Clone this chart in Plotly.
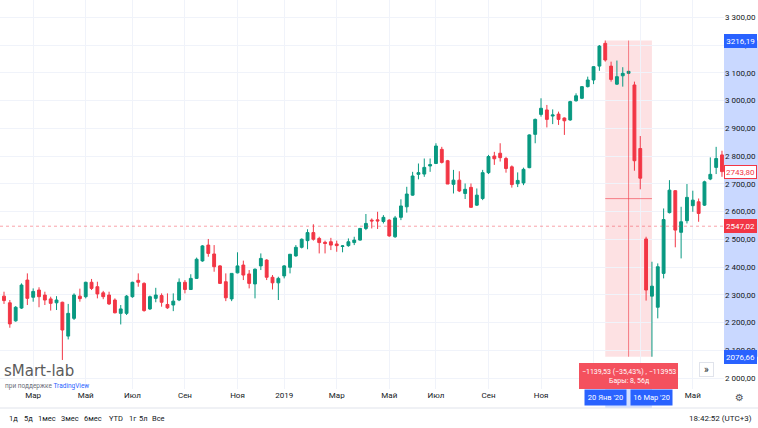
import pandas as pd
import plotly.graph_objects as go

# ---------------- data (weekly candles) ----------------
first_week = "2018-01-29"
opens = [2295, 2271, 2206, 2252, 2353, 2291, 2317, 2299, 2285, 2271,
         2273, 2151, 2215, 2295, 2293, 2345, 2329, 2307, 2299, 2281,
         2233, 2233, 2293, 2352, 2341, 2249, 2287, 2297, 2265, 2263,
         2281, 2345, 2319, 2359, 2422, 2479, 2447, 2404, 2347, 2285,
         2379, 2407, 2375, 2339, 2404, 2425, 2363, 2343, 2368, 2399,
         2440, 2471, 2495, 2524, 2503, 2489, 2491, 2483, 2474, 2477,
         2488, 2497, 2539, 2569, 2570, 2564, 2569, 2509, 2579, 2617,
         2659, 2734, 2735, 2764, 2773, 2824, 2783, 2698, 2713, 2665,
         2687, 2623, 2647, 2740, 2800, 2810, 2791, 2761, 2700, 2703,
         2758, 2878, 2950, 2966, 2944, 2951, 2937, 2930, 2999, 3008,
         3050, 3074, 3124, 3206, 3124, 3059, 3089, 3098, 3056, 2827,
         2501, 2295, 2255, 2377, 2596, 2675, 2525, 2567, 2621, 2635,
         2623, 2717, 2759, 2804]
highs = [2311, 2281, 2259, 2341, 2377, 2323, 2327, 2311, 2293, 2295,
         2275, 2267, 2305, 2322, 2347, 2357, 2347, 2314, 2311, 2287,
         2263, 2299, 2347, 2377, 2345, 2297, 2325, 2305, 2305, 2305,
         2359, 2353, 2374, 2434, 2479, 2501, 2479, 2407, 2377, 2377,
         2453, 2423, 2389, 2395, 2449, 2428, 2371, 2365, 2407, 2447,
         2479, 2503, 2536, 2554, 2509, 2495, 2505, 2495, 2479, 2503,
         2509, 2541, 2591, 2575, 2599, 2587, 2572, 2584, 2644, 2689,
         2743, 2773, 2791, 2791, 2846, 2833, 2786, 2750, 2745, 2701,
         2701, 2683, 2750, 2804, 2815, 2846, 2797, 2766, 2741, 2758,
         2878, 2935, 3008, 2984, 2968, 2960, 2939, 2999, 3026, 3052,
         3086, 3124, 3200, 3216.19, 3140, 3144, 3120, 3107, 3068, 2872,
         2509, 2419, 2413, 2611, 2713, 2677, 2617, 2699, 2675, 2647,
         2711, 2795, 2833, 2819]
lows = [2267, 2181, 2203, 2249, 2263, 2275, 2255, 2263, 2243, 2245,
        2065, 2139, 2209, 2275, 2287, 2317, 2287, 2284, 2263, 2233,
        2193, 2227, 2289, 2329, 2239, 2245, 2273, 2257, 2249, 2241,
        2277, 2305, 2317, 2357, 2419, 2437, 2383, 2339, 2277, 2277,
        2377, 2353, 2323, 2287, 2389, 2353, 2319, 2281, 2359, 2377,
        2437, 2467, 2464, 2495, 2449, 2449, 2461, 2455, 2453, 2473,
        2479, 2495, 2533, 2539, 2537, 2557, 2509, 2505, 2569, 2596,
        2657, 2716, 2725, 2743, 2771, 2773, 2699, 2665, 2670, 2645,
        2614, 2620, 2641, 2735, 2768, 2780, 2740, 2686, 2688, 2695,
        2756, 2846, 2942, 2903, 2915, 2912, 2876, 2927, 2996, 3005,
        3047, 3059, 3107, 3140, 3068, 3056, 3050, 3095, 2747, 2680,
        2279, 2076.66, 2215, 2359, 2593, 2471, 2431, 2557, 2599, 2563,
        2620, 2713, 2735, 2725]
closes = [2279, 2195, 2255, 2335, 2287, 2312, 2293, 2281, 2269, 2281,
          2173, 2233, 2299, 2286, 2345, 2323, 2303, 2293, 2267, 2235,
          2249, 2295, 2345, 2345, 2243, 2293, 2299, 2273, 2253, 2277,
          2345, 2319, 2359, 2428, 2476, 2449, 2401, 2341, 2289, 2377,
          2404, 2371, 2341, 2392, 2431, 2363, 2343, 2359, 2404, 2446,
          2471, 2500, 2524, 2500, 2488, 2485, 2479, 2477, 2476, 2491,
          2497, 2539, 2557, 2566, 2566, 2579, 2512, 2577, 2620, 2663,
          2728, 2740, 2759, 2769, 2836, 2777, 2699, 2713, 2674, 2680,
          2615, 2659, 2740, 2798, 2790, 2794, 2755, 2697, 2712, 2752,
          2876, 2932, 2972, 2932, 2948, 2932, 2927, 2996, 3017, 3050,
          3074, 3122, 3196, 3146, 3076, 3086, 3098, 3105, 2783, 2720,
          2317, 2331, 2401, 2571, 2677, 2533, 2563, 2651, 2641, 2593,
          2707, 2734, 2791, 2743.80]

x_tick_dates = ["2018-03-05", "2018-05-07", "2018-07-02", "2018-09-03", "2018-11-05",
                "2018-12-31", "2019-03-04", "2019-05-06", "2019-07-01", "2019-09-02",
                "2019-11-04", "2020-01-06", "2020-03-02", "2020-05-04"]
# the 2020 / Mar-2020 labels are hidden under the measurement date boxes
x_tick_labels = ["Мар", "Май", "Июл", "Сен", "Ноя", "2019", "Мар", "Май", "Июл",
                 "Сен", "Ноя", "", "", "Май"]
y_tick_values = list(range(2000, 3301, 100))

# measurement tool
measure_start = "2020-01-20"
measure_end = "2020-03-16"
measure_mid = "2020-02-17"
measure_high = 3216.19
measure_low = 2076.66
measure_text = "−1139,53 (−35,43%) , −113953<br>Бары: 8, 56д"
start_label = "20 Янв '20"
end_label = "16 Мар '20"
ref_line_price = 2547.02
last_price = 2743.80

toolbar_labels = ["1д", "5д", "1мес", "3мес", "6мес", "YTD", "1г", "5л", "Все"]
toolbar_px = [13, 28.5, 46.5, 69.5, 93, 116, 133, 143.5, 158]
clock_text = "18:42:52 (UTC+3)"

dates = pd.date_range(first_week, periods=len(opens), freq="7D")

# ---------------- layout geometry ----------------
W, H = 758, 428
PL, PR, PT, PB = 0, 34, 0, 39
plot_w = W - PL - PR
plot_h = H - PT - PB
FONT = "Roboto"
TXT = "#131722"
GREEN = "#089981"
RED = "#f23645"
BLUE = "#2962ff"


def px_x(px):
    return (px - PL) / plot_w


def px_y(py):
    return (H - PB - py) / plot_h


fig = go.Figure()
fig.add_trace(go.Candlestick(
    x=dates, open=opens, high=highs, low=lows, close=closes,
    increasing=dict(line=dict(color=GREEN, width=1), fillcolor=GREEN),
    decreasing=dict(line=dict(color=RED, width=1), fillcolor=RED),
    whiskerwidth=0, showlegend=False, hoverinfo="skip"))

shapes = []
# measurement rectangle
shapes.append(dict(type="rect", xref="x", yref="y", x0=measure_start, x1=measure_end,
                   y0=measure_low, y1=measure_high, fillcolor="rgba(242,54,69,0.15)",
                   line=dict(width=0), layer="below"))
arrow_col = "rgba(242,54,69,0.6)"
mid_price = (measure_high + measure_low) / 2
# vertical arrow
shapes.append(dict(type="line", xref="x", yref="y", x0=measure_mid, x1=measure_mid,
                   y0=measure_high, y1=measure_low, line=dict(color=arrow_col, width=1)))
ts_mid = pd.Timestamp(measure_mid)
ts_end = pd.Timestamp(measure_end)
d5 = pd.Timedelta(days=5)
shapes.append(dict(type="path", xref="x", yref="y",
                   path=f"M {(ts_mid - d5):%Y-%m-%d %H:%M},{measure_low + 16} L {ts_mid:%Y-%m-%d},{measure_low} "
                        f"L {(ts_mid + d5):%Y-%m-%d %H:%M},{measure_low + 16}",
                   line=dict(color=arrow_col, width=1)))
# horizontal arrow
shapes.append(dict(type="line", xref="x", yref="y", x0=measure_start, x1=measure_end,
                   y0=mid_price, y1=mid_price, line=dict(color=arrow_col, width=1)))
shapes.append(dict(type="path", xref="x", yref="y",
                   path=f"M {(ts_end - d5):%Y-%m-%d %H:%M},{mid_price + 15} L {ts_end:%Y-%m-%d},{mid_price} "
                        f"L {(ts_end - d5):%Y-%m-%d %H:%M},{mid_price - 15}",
                   line=dict(color=arrow_col, width=1)))
# reference dotted line
shapes.append(dict(type="line", xref="paper", yref="y", x0=0, x1=1, y0=ref_line_price,
                   y1=ref_line_price, line=dict(color="rgba(242,54,69,0.45)", width=1, dash="dot")))
# price-axis blue band
shapes.append(dict(type="rect", xref="paper", yref="y", x0=1.0, x1=px_x(W), y0=measure_low,
                   y1=measure_high, fillcolor="rgba(41,98,255,0.25)", line=dict(width=0), layer="below"))
# time-axis blue band
shapes.append(dict(type="rect", xref="x", yref="paper", x0=measure_start, x1=measure_end,
                   y0=px_y(408), y1=px_y(389), fillcolor="rgba(41,98,255,0.2)", line=dict(width=0)))
# separator line above toolbar
shapes.append(dict(type="line", xref="paper", yref="paper", x0=px_x(0), x1=px_x(W),
                   y0=px_y(408), y1=px_y(408), line=dict(color="#e0e3eb", width=1)))
# measurement label box
shapes.append(dict(type="rect", xref="paper", yref="paper", x0=px_x(579), x1=px_x(678),
                   y0=px_y(389), y1=px_y(363), fillcolor="#f4515e", line=dict(width=0)))

ann = []
ann.append(dict(xref="x", yref="paper", x=measure_mid, y=px_y(376), text=measure_text,
                showarrow=False, font=dict(family=FONT, size=7, color="white"),
                xanchor="center", yanchor="middle", align="center"))


def price_label(val, text, bg, fg, border=None):
    return dict(xref="paper", yref="y", x=1.0, y=val, text=text, showarrow=False,
                xanchor="left", yanchor="middle", bgcolor=bg, bordercolor=border or bg,
                borderwidth=1, borderpad=1, width=29, height=10,
                font=dict(family=FONT, size=8, color=fg))


ann.append(price_label(measure_high, "3216,19", BLUE, "white"))
ann.append(price_label(measure_low, "2076,66", BLUE, "white"))
ann.append(price_label(ref_line_price, "2547,02", RED, "white"))
ann.append(price_label(last_price, "2743,80", "white", RED, RED))

for d, t in [(measure_start, start_label), (measure_end, end_label)]:
    ann.append(dict(xref="x", yref="paper", x=d, y=px_y(397), text=t, showarrow=False,
                    xanchor="center", yanchor="middle", bgcolor=BLUE, borderpad=2,
                    width=37, height=11, font=dict(family=FONT, size=7.5, color="white")))

ann.append(dict(xref="paper", yref="paper", x=px_x(2), y=px_y(371), text="sMart-lab",
                showarrow=False, xanchor="left", yanchor="middle",
                font=dict(family="DejaVu Sans", size=15, color="#5b5b5b")))
ann.append(dict(xref="paper", yref="paper", x=px_x(3), y=px_y(386),
                text="при поддержке <span style='color:#2962ff'>TradingView</span>",
                showarrow=False, xanchor="left", yanchor="middle",
                font=dict(family=FONT, size=6.5, color="#6a6d78")))
ann.append(dict(xref="paper", yref="paper", x=px_x(706.5), y=px_y(369), text="»",
                showarrow=False, xanchor="center", yanchor="middle", bgcolor="white",
                bordercolor="#e0e3eb", borderwidth=1, width=11, height=11,
                font=dict(family=FONT, size=10, color=TXT)))
ann.append(dict(xref="paper", yref="paper", x=px_x(739), y=px_y(397), text="⚙",
                showarrow=False, xanchor="center", yanchor="middle",
                font=dict(family="DejaVu Sans", size=10, color="#50535e")))
for lab, p in zip(toolbar_labels, toolbar_px):
    ann.append(dict(xref="paper", yref="paper", x=px_x(p), y=px_y(418), text=lab,
                    showarrow=False, xanchor="center", yanchor="middle",
                    font=dict(family=FONT, size=7.5, color=TXT)))
ann.append(dict(xref="paper", yref="paper", x=px_x(754), y=px_y(418), text=clock_text,
                showarrow=False, xanchor="right", yanchor="middle",
                font=dict(family=FONT, size=8, color=TXT)))

fig.update_layout(
    width=W, height=H,
    margin=dict(l=PL, r=PR, t=PT, b=PB),
    paper_bgcolor="white", plot_bgcolor="white",
    separators=", ",
    font=dict(family=FONT, size=8, color=TXT),
    shapes=shapes, annotations=ann,
    xaxis=dict(type="date", range=["2018-01-24 05:00", "2020-06-10 10:00"],
               rangeslider=dict(visible=False), tickvals=x_tick_dates, ticktext=x_tick_labels,
               showgrid=True, gridcolor="#f0f3fa", gridwidth=1, zeroline=False,
               showline=False, ticks="", tickfont=dict(family=FONT, size=8, color=TXT)),
    yaxis=dict(side="right", range=[1960.4, 3362.2], tickvals=y_tick_values,
               tickformat=",.2f", showgrid=True, gridcolor="#f0f3fa", gridwidth=1,
               zeroline=False, showline=False, ticks="",
               tickfont=dict(family=FONT, size=8, color=TXT)),
)

fig.write_html("out.html", config={"displayModeBar": False},
               post_script="document.body.style.margin='0';document.body.style.overflow='hidden';")
